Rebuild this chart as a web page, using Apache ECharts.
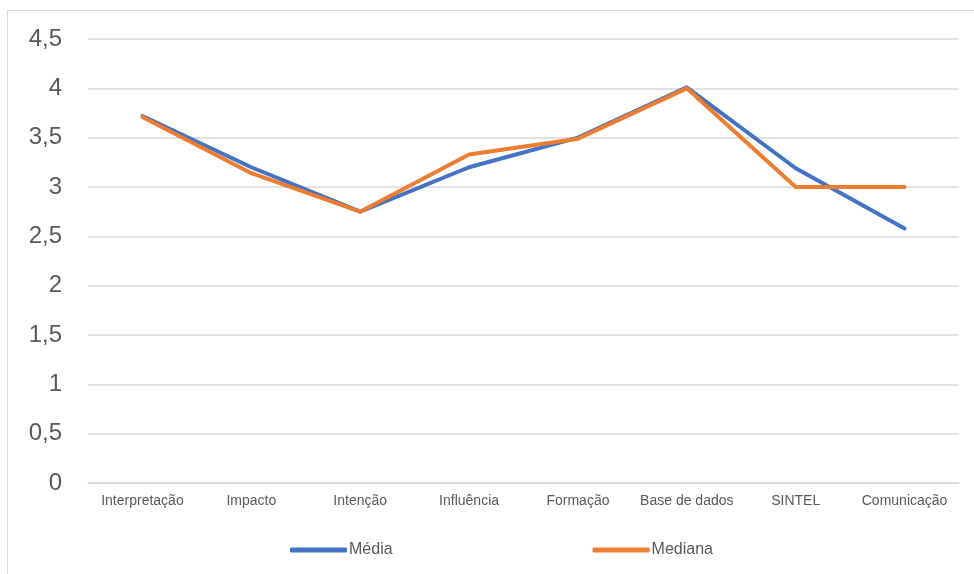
<!DOCTYPE html>
<html>
<head>
<meta charset="utf-8">
<script src="https://cdn.jsdelivr.net/npm/echarts@6/dist/echarts.min.js"></script>
<style>
  html, body { margin: 0; padding: 0; background: #fff; }
  #chart { width: 974px; height: 574px; }
</style>
</head>
<body>
<div id="chart"></div>
<script>
const categories = ['Interpretação', 'Impacto', 'Intenção', 'Influência', 'Formação', 'Base de dados', 'SINTEL', 'Comunicação'];
const media = [3.72, 3.20, 2.75, 3.20, 3.50, 4.01, 3.19, 2.58];
const mediana = [3.71, 3.14, 2.75, 3.33, 3.49, 4.00, 3.00, 3.00];

const chart = echarts.init(document.getElementById('chart'));

const option = {
  animation: false,
  textStyle: { fontFamily: '"Liberation Sans", Arial, sans-serif' },
  graphic: [{
    type: 'rect',
    shape: { x: 7.5, y: 10.5, width: 1000, height: 600 },
    style: { fill: null, stroke: '#d9d9d9', lineWidth: 1 }
  }],
  grid: { left: 88, right: 15, top: 39, bottom: 91 },
  legend: {
    left: 285,
    top: 537,
    itemGap: 200,
    itemWidth: 57,
    itemHeight: 5,
    textStyle: { color: '#595959', fontSize: 16, padding: [0, 0, 0, -3] },
    data: [
      { name: 'Média', icon: 'roundRect' },
      { name: 'Mediana', icon: 'roundRect' }
    ]
  },
  xAxis: {
    type: 'category',
    data: categories,
    boundaryGap: true,
    axisLine: { lineStyle: { color: '#d9d9d9', width: 1.5 } },
    axisTick: { show: false },
    axisLabel: { color: '#595959', fontSize: 14, margin: 11, interval: 0 }
  },
  yAxis: {
    type: 'value',
    min: 0,
    max: 4.5,
    interval: 0.5,
    axisLine: { show: false },
    axisTick: { show: false },
    splitLine: { lineStyle: { color: '#d9d9d9', width: 1.5 } },
    axisLabel: {
      color: '#595959',
      fontSize: 24,
      margin: 26,
      formatter: v => String(v).replace('.', ',')
    }
  },
  series: [
    {
      name: 'Média',
      type: 'line',
      data: media,
      symbol: 'none',
      color: '#4472c4',
      lineStyle: { width: 4, cap: 'round', join: 'round' }
    },
    {
      name: 'Mediana',
      type: 'line',
      data: mediana,
      symbol: 'none',
      color: '#ed7d31',
      lineStyle: { width: 4, cap: 'round', join: 'round' }
    }
  ]
};

chart.setOption(option);
</script>
</body>
</html>
